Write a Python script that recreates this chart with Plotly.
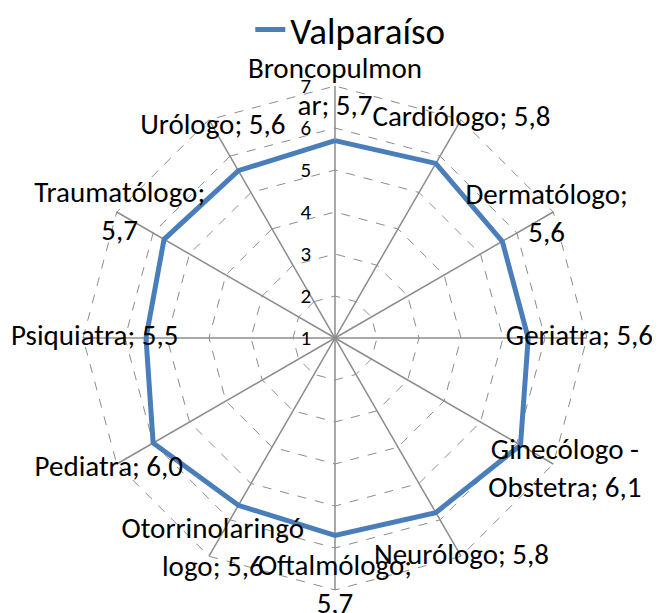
import plotly.graph_objects as go

categories = ["Broncopulmonar", "Cardiólogo", "Dermatólogo", "Geriatra",
              "Ginecólogo - Obstetra", "Neurólogo", "Oftalmólogo",
              "Otorrinolaringólogo", "Pediatra", "Psiquiatra", "Traumatólogo", "Urólogo"]
values = [5.7, 5.8, 5.6, 5.6, 6.1, 5.8, 5.7, 5.6, 6.0, 5.5, 5.7, 5.6]
# wrapped label text as shown in the chart
label_lines = ["Broncopulmon<br>ar", "Cardiólogo", "Dermatólogo;<br>", "Geriatra",
               "Ginecólogo -<br>Obstetra", "Neurólogo", "Oftalmólogo;<br>",
               "Otorrinolaringó<br>logo", "Pediatra", "Psiquiatra", "Traumatólogo;<br>", "Urólogo"]
series_name = "Valparaíso"
radial_ticks = [1, 2, 3, 4, 5, 6, 7]

def fmt(v):
    return f"{v:.1f}".replace(".", ",")

labels = []
for lab, v in zip(label_lines, values):
    if lab.endswith("<br>"):
        labels.append(lab + fmt(v))
    else:
        labels.append(lab + "; " + fmt(v))

FONT = "Carlito, Lato, 'Liberation Sans', sans-serif"
LABEL_OFFSET = 1.22
GRID = "#8C8C8C"
W, H = 652, 605
R_MIN, R_MAX, R_VIEW = radial_ticks[0], radial_ticks[-1], 7.5
PX_PER_UNIT = 42
half = PX_PER_UNIT * (R_VIEW - R_MIN)
CX, CY = 327, 330

fig = go.Figure()
# spokes from centre to outer ring
spoke_r, spoke_t = [], []
for c in categories:
    spoke_r += [R_MIN, R_MAX, None]
    spoke_t += [c, c, None]
fig.add_trace(go.Scatterpolar(
    r=spoke_r, theta=spoke_t, mode="lines", connectgaps=False,
    line=dict(color=GRID, width=1.5), showlegend=False, hoverinfo="skip",
))
fig.add_trace(go.Scatterpolar(
    r=values + values[:1], theta=categories + categories[:1],
    mode="lines", name=series_name,
    line=dict(color="#4A7EBB", width=5),
))
fig.add_trace(go.Scatterpolar(
    r=[v + LABEL_OFFSET for v in values], theta=categories,
    mode="text", text=labels, textposition="middle center",
    textfont=dict(family=FONT, size=29, color="black"),
    showlegend=False, cliponaxis=False, hoverinfo="skip",
))

fig.update_layout(
    width=W, height=H,
    margin=dict(l=0, r=0, t=0, b=0, autoexpand=False),
    paper_bgcolor="white", plot_bgcolor="white",
    font=dict(family=FONT, color="black"),
    showlegend=True,
    legend=dict(orientation="h", x=0.525, xanchor="center", y=1.015, yanchor="top",
                font=dict(family=FONT, size=37, color="black"),
                bgcolor="rgba(0,0,0,0)"),
    polar=dict(
        domain=dict(x=[(CX - half)/W, (CX + half)/W], y=[1-(CY + half)/H, 1-(CY - half)/H]),
        bgcolor="white",
        gridshape="linear",
        radialaxis=dict(range=[R_MIN, R_VIEW], tickvals=radial_ticks, angle=90, tickangle=90,
                        side="counterclockwise", showline=False,
                        ticks="outside", ticklen=16, tickcolor="rgba(0,0,0,0)",
                        gridcolor=GRID, griddash="dash", gridwidth=1.2,
                        tickfont=dict(family=FONT, size=21, color="black")),
        angularaxis=dict(direction="clockwise", rotation=90,
                         showticklabels=False, ticks="", showline=False,
                         showgrid=False),
    ),
)
fig.write_html("out.html")
